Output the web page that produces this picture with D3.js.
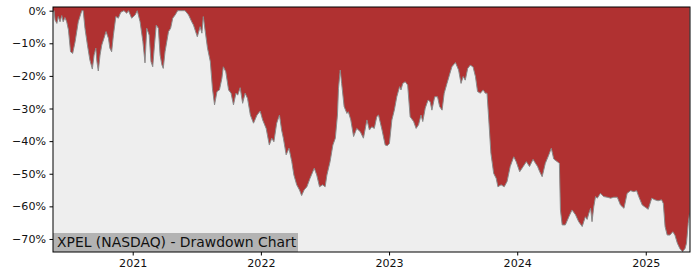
<!DOCTYPE html>
<html>
<head>
<meta charset="utf-8">
<script src="https://cdn.jsdelivr.net/npm/d3@7"></script>
<style>
body { margin: 0; background: #fff; }
svg { display: block; font-family: "DejaVu Sans", sans-serif; }
</style>
</head>
<body>
<div id="chart"></div>
<script>
// drawdown of XPEL from its running high, in percent
var dates = [
    '2020-05-19', '2020-05-22', '2020-05-25', '2020-05-30', '2020-06-03', '2020-06-08', '2020-06-13', '2020-06-17',
    '2020-06-22', '2020-06-27', '2020-07-02', '2020-07-08', '2020-07-14', '2020-07-21', '2020-07-30', '2020-08-09',
    '2020-08-13', '2020-08-18', '2020-08-25', '2020-09-01', '2020-09-08', '2020-09-13', '2020-09-18', '2020-09-21',
    '2020-09-25', '2020-09-30', '2020-10-05', '2020-10-11', '2020-10-17', '2020-10-24', '2020-10-28', '2020-11-02',
    '2020-11-07', '2020-11-14', '2020-11-21', '2020-11-28', '2020-12-07', '2020-12-15', '2020-12-20', '2020-12-29',
    '2021-01-08', '2021-01-14', '2021-01-22', '2021-01-30', '2021-02-05', '2021-02-10', '2021-02-17', '2021-02-22',
    '2021-02-27', '2021-03-04', '2021-03-09', '2021-03-15', '2021-03-20', '2021-03-25', '2021-03-29', '2021-04-03',
    '2021-04-08', '2021-04-13', '2021-04-19', '2021-04-25', '2021-05-02', '2021-05-09', '2021-05-21', '2021-05-30',
    '2021-06-09', '2021-06-18', '2021-06-23', '2021-07-04', '2021-07-12', '2021-07-17', '2021-07-21', '2021-07-26',
    '2021-08-02', '2021-08-10', '2021-08-16', '2021-08-22', '2021-08-29', '2021-09-05', '2021-09-12', '2021-09-16',
    '2021-09-23', '2021-10-01', '2021-10-08', '2021-10-15', '2021-10-22', '2021-10-27', '2021-11-03', '2021-11-10',
    '2021-11-17', '2021-11-24', '2021-12-02', '2021-12-11', '2021-12-21', '2021-12-30',
    '2022-01-06', '2022-01-16', '2022-01-25', '2022-02-01', '2022-02-07', '2022-02-15', '2022-02-23', '2022-03-01',
    '2022-03-06', '2022-03-14', '2022-03-22', '2022-03-30', '2022-04-05', '2022-04-13', '2022-04-21', '2022-04-27',
    '2022-05-04', '2022-05-12', '2022-05-21', '2022-06-02', '2022-06-09', '2022-06-17', '2022-06-26', '2022-07-03',
    '2022-07-08', '2022-07-17', '2022-07-25', '2022-08-01', '2022-08-07', '2022-08-10', '2022-08-15', '2022-08-19',
    '2022-08-26', '2022-09-03', '2022-09-07', '2022-09-14', '2022-09-22', '2022-10-01', '2022-10-11', '2022-10-20',
    '2022-10-30', '2022-11-06', '2022-11-13', '2022-11-20', '2022-11-27', '2022-12-02', '2022-12-12', '2022-12-21',
    '2022-12-27',
    '2023-01-02', '2023-01-09', '2023-01-16', '2023-01-23', '2023-01-31', '2023-02-04', '2023-02-09', '2023-02-16',
    '2023-02-23', '2023-03-02', '2023-03-12', '2023-03-19', '2023-03-26', '2023-04-02', '2023-04-07', '2023-04-14',
    '2023-04-22', '2023-04-28', '2023-05-03', '2023-05-11', '2023-05-19', '2023-05-25', '2023-06-01', '2023-06-07',
    '2023-06-15', '2023-06-22', '2023-06-29', '2023-07-09', '2023-07-18', '2023-07-25', '2023-07-31', '2023-08-06',
    '2023-08-13', '2023-08-20', '2023-08-28', '2023-09-04', '2023-09-10', '2023-09-18', '2023-09-26', '2023-10-02',
    '2023-10-07', '2023-10-12', '2023-10-18', '2023-10-26', '2023-11-02', '2023-11-07', '2023-11-16', '2023-11-25',
    '2023-12-03', '2023-12-12', '2023-12-22', '2023-12-29',
    '2024-01-08', '2024-01-18', '2024-01-27', '2024-02-05', '2024-02-15', '2024-02-22', '2024-02-28', '2024-03-05',
    '2024-03-12', '2024-03-21', '2024-03-31', '2024-04-07', '2024-04-14', '2024-04-24', '2024-04-30', '2024-05-03',
    '2024-05-08', '2024-05-17', '2024-05-27', '2024-06-05', '2024-06-15', '2024-06-24', '2024-07-04', '2024-07-13',
    '2024-07-18', '2024-07-23', '2024-07-28', '2024-08-01', '2024-08-06', '2024-08-11', '2024-08-16', '2024-08-25',
    '2024-09-03', '2024-09-13', '2024-09-23', '2024-10-02', '2024-10-12', '2024-10-21', '2024-10-31', '2024-11-09',
    '2024-11-19', '2024-11-28', '2024-12-06', '2024-12-12', '2024-12-22', '2024-12-31',
    '2025-01-08', '2025-01-18', '2025-01-27', '2025-02-05', '2025-02-15', '2025-02-20', '2025-02-25', '2025-03-03',
    '2025-03-11', '2025-03-19', '2025-03-25', '2025-04-01', '2025-04-08', '2025-04-16', '2025-04-23', '2025-04-27',
    '2025-05-02', '2025-05-06'
];

var drawdown = [
    -0.5, 0, -2.9, -3.9, -1.8, -3.4, -1.5, -3.4,
    -2.1, -3.4, -5.9, -12.6, -13.1, -9.5, -3.4, 0,
    0, -5.4, -10.5, -15.1, -17.9, -13.6, -11.5, -15.6,
    -18.5, -13.6, -10.5, -8.5, -6.4, -8.5, -11.5, -12.6,
    -7.5, -1.8, -2.3, -0.5, 0, -0.8, 0, -2.3,
    -1.3, 0, -3.4, -9.5, -16.0, -5.4, -7.5, -15.6,
    -17.2, -10.5, -4.4, -5.4, -13.6, -16.6, -17.7, -12.6,
    -9.5, -6.4, -5.4, -2.3, -1.3, 0, 0, 0,
    -1.3, -3.4, -4.4, -8.0, -4.9, -6.9, -1.8, -5.9,
    -11.5, -15.6, -23.8, -28.9, -24.8, -24.3, -20.7, -17.2,
    -18.7, -24.3, -25.3, -28.9, -25.3, -25.9, -23.6, -28.4,
    -25.3, -26.9, -32.0, -34.5, -32.0, -30.8,
    -33.5, -36.1, -41.2, -39.1, -40.2, -34.5, -32.0, -36.6,
    -39.1, -44.2, -42.2, -46.3, -50.4, -53.4, -55.0, -56.7,
    -55.0, -54.0, -51.4, -48.3, -50.4, -54.0, -53.4, -54.0,
    -50.4, -46.3, -41.2, -39.1, -32.0, -23.8, -18.2, -22.3,
    -29.4, -31.5, -31.0, -33.5, -38.6, -36.1, -37.1, -39.1,
    -33.5, -36.6, -35.6, -36.1, -32.5, -32.0, -36.6, -41.2,
    -41.4,
    -40.7, -33.5, -30.5, -26.4, -23.3, -24.3, -22.3, -21.8,
    -22.8, -32.5, -34.0, -36.1, -35.0, -32.0, -34.0, -29.9,
    -27.4, -27.9, -30.5, -26.4, -26.4, -29.4, -30.5, -25.3,
    -22.3, -19.7, -17.2, -15.9, -18.2, -22.3, -20.2, -21.3,
    -17.7, -16.7, -17.2, -20.2, -24.8, -25.3, -24.3, -25.3,
    -25.3, -33.5, -43.7, -49.9, -51.4, -54.0, -53.4, -54.0,
    -52.4, -47.8, -44.8, -46.3,
    -49.4, -47.8, -46.3, -47.8, -45.6, -46.8, -47.8, -49.4,
    -50.9, -46.8, -44.2, -42.2, -45.5, -46.3, -46.8, -61.1,
    -65.7, -65.7, -63.2, -61.1, -62.6, -64.7, -66.2, -63.2,
    -64.0, -62.1, -60.6, -64.7, -60.1, -57.0, -57.5, -56.0,
    -57.0, -57.2, -57.5, -57.2, -57.2, -59.6, -60.6, -56.0,
    -55.2, -55.5, -55.2, -57.0, -59.6, -60.3,
    -60.9, -57.5, -58.0, -58.3, -58.0, -59.1, -66.2, -68.8,
    -68.8, -67.8, -68.8, -71.3, -72.9, -73.9, -72.9, -71.3,
    -65.2, -62.0
];

var yTicks = [0, -10, -20, -30, -40, -50, -60, -70];
var xTicks = ['2021-01-01', '2022-01-01', '2023-01-01', '2024-01-01', '2025-01-01'];
var title = 'XPEL (NASDAQ) - Drawdown Chart';

var parseDate = d3.timeParse('%Y-%m-%d');
var data = dates.map(function (d, i) {
    return { date: parseDate(d), value: drawdown[i] };
});

var margin = { top: 7, right: 10, bottom: 28, left: 53 };
var width = 700 - margin.left - margin.right;
var height = 280 - margin.top - margin.bottom;

var x = d3.scaleTime()
    .domain([parseDate('2020-05-19'), parseDate('2025-05-07')])
    .range([0, width]);
var y = d3.scaleLinear()
    .domain([-74, 1.13])
    .range([height, 0]);

var svg = d3.select('#chart').append('svg')
    .attr('width', 700)
    .attr('height', 280)
    .append('g')
    .attr('transform', 'translate(' + margin.left + ',' + margin.top + ')');

svg.append('clipPath').attr('id', 'clip')
    .append('rect').attr('width', width).attr('height', height);

// plot background
svg.append('rect')
    .attr('width', width)
    .attr('height', height)
    .attr('fill', '#eeeeee');

var plot = svg.append('g').attr('clip-path', 'url(#clip)');

// red area from the top of the axes down to the drawdown
plot.append('path')
    .datum(data)
    .attr('fill', '#b03131')
    .attr('d', d3.area()
        .x(function (d) { return x(d.date); })
        .y0(0)
        .y1(function (d) { return y(d.value); }));

plot.append('path')
    .datum(data)
    .attr('fill', 'none')
    .attr('stroke', '#8a8a8a')
    .attr('stroke-width', 1)
    .attr('d', d3.line()
        .x(function (d) { return x(d.date); })
        .y(function (d) { return y(d.value); }));

// title box bottom left
svg.append('rect')
    .attr('x', 0)
    .attr('y', height - 19)
    .attr('width', 245)
    .attr('height', 19)
    .attr('fill', '#b3b3b3');
svg.append('text')
    .attr('x', 4)
    .attr('y', height - 5)
    .attr('font-size', '13.9px')
    .attr('fill', '#111')
    .text(title);

// axes
var yAxis = svg.append('g')
    .call(d3.axisLeft(y)
        .tickValues(yTicks)
        .tickSize(3.5)
        .tickPadding(3.5)
        .tickFormat(function (d) { return (d < 0 ? '\u2212' + (-d) : d) + '%'; }));
var xAxis = svg.append('g')
    .attr('transform', 'translate(0,' + height + ')')
    .call(d3.axisBottom(x)
        .tickValues(xTicks.map(parseDate))
        .tickSize(3.5)
        .tickPadding(3.5)
        .tickFormat(d3.timeFormat('%Y')));

[yAxis, xAxis].forEach(function (a) {
    a.select('.domain').remove();
    a.selectAll('text').attr('font-size', '11.1px').attr('fill', '#111').attr('font-family', '"DejaVu Sans", sans-serif');
    a.selectAll('line').attr('stroke', '#000');
});

// frame
svg.append('rect')
    .attr('width', width)
    .attr('height', height)
    .attr('fill', 'none')
    .attr('stroke', '#000')
    .attr('stroke-width', 1);
</script>
</body>
</html>
